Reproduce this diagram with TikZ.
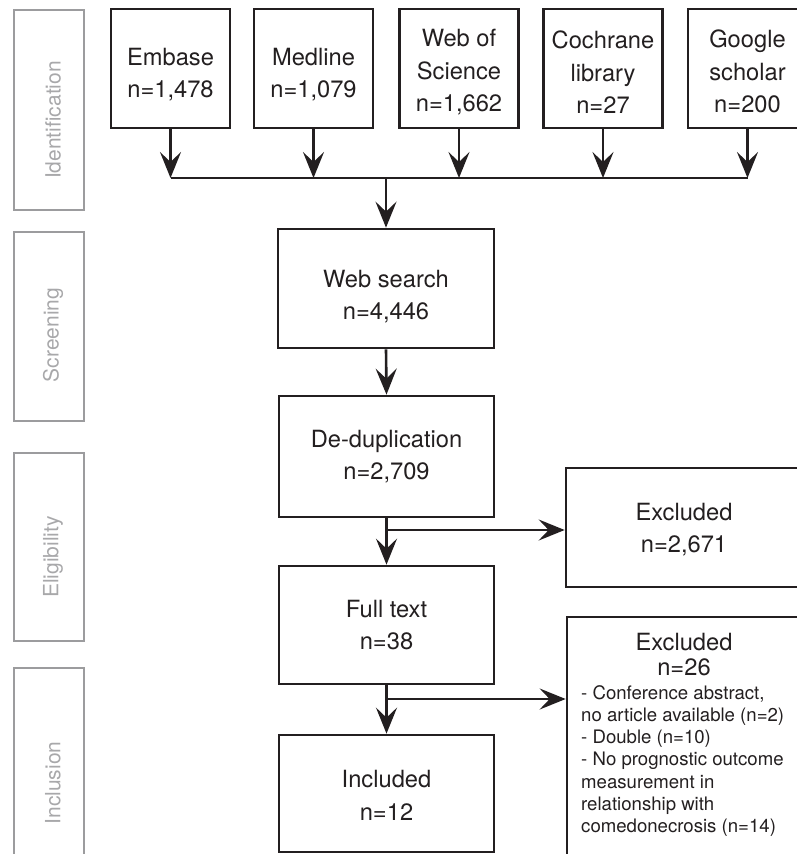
\documentclass[tikz,border=0pt]{standalone}
\usepackage{fontspec}
\setmainfont{TeX Gyre Heros}
\usetikzlibrary{arrows.meta}
\definecolor{ink}{HTML}{231F20}
\definecolor{stagegray}{HTML}{9C9C9E}
\definecolor{stagetext}{HTML}{A8A8AA}
\begin{document}
\begin{tikzpicture}[x=1pt,y=-1pt,
  boxtext/.style={align=center, text=ink, inner sep=0pt, font=\fontsize{23.7}{32.5}\selectfont},
  box/.style={draw=ink, line width=2.7pt, rectangle, inner sep=0pt, boxtext},
  stagebox/.style={draw=stagegray, line width=2.5pt, rectangle, inner sep=0pt, minimum width=70pt},
  stagelabel/.style={rotate=90, text=stagetext, font=\fontsize{21}{25}\selectfont, inner sep=0pt},
  arr/.style={draw=ink, line width=2.6pt, -{Stealth[length=26pt,width=21pt,inset=10pt]}},
  ln/.style={draw=ink, line width=2.6pt},
  src/.style={box, minimum width=119pt, minimum height=119pt}
]
\useasboundingbox (0,0) rectangle (797,854);
\clip (0,0) rectangle (797,854);

% stage boxes
\node[stagebox, minimum height=200pt] (sid) at (49,110) {};
\node[stagebox, minimum height=189pt] (ssc) at (49,326.5) {};
\node[stagebox, minimum height=188pt] (sel) at (49,547) {};
\node[stagebox, minimum height=212pt] (sin) at (49,774) {};
\node[stagelabel] (lid) at (53,120) {Identification};
\node[stagelabel] (lsc) at (53,335) {Screening};
\node[stagelabel] (lel) at (53,557) {Eligibility};
\node[stagelabel] (lin) at (53,783) {Inclusion};

% source boxes
\node[src, label={[boxtext, yshift=-6pt]center:Embase\\n=1,478}] (emb) at (170.5,68.5) {};
\node[src, label={[boxtext, yshift=-6pt]center:Medline\\n=1,079}] (med) at (313.5,68.5) {};
\node[src, label={[boxtext, yshift=-4pt]center:Web of\\Science\\n=1,662}] (wos) at (459,68.5) {};
\node[src, label={[boxtext, yshift=-4pt]center:Cochrane\\library\\n=27}] (coc) at (603,68.5) {};
\node[src, label={[boxtext, yshift=-3pt]center:Google\\scholar\\n=200}] (goo) at (747.5,68.5) {};

% main flow
\node[box, minimum width=216pt, minimum height=119pt, label={[boxtext, yshift=-8pt]center:Web search\\n=4,446}] (ws) at (386,288.5) {};
\node[box, minimum width=215pt, minimum height=121pt] (ded) at (386.5,456.5) {De-duplication\\n=2,709};
\node[box, minimum width=215pt, minimum height=118pt] (ft) at (386.5,625) {Full text\\n=38};
\node[box, minimum width=215pt, minimum height=117pt, label={[boxtext, yshift=-2pt]center:Included\\n=12}] (inc) at (386.5,793.5) {};

% excluded boxes
\node[box, minimum width=236pt, minimum height=119pt, label={[boxtext, yshift=-2pt]center:Excluded\\n=2,671}] (ex1) at (684,527.5) {};
\node[box, minimum width=235pt, minimum height=253pt] (ex2) at (684.5,743.5) {};
\node[text=ink, align=center, inner sep=0pt, font=\fontsize{23.7}{25}\selectfont] (ex2h) at (684,654.5) {Excluded\\n=26};
\node[text=ink, align=left, anchor=west, inner sep=0pt, font=\fontsize{18.6}{22.2}\selectfont] (ex2l) at (581,761) {- Conference abstract,\\no article available (n=2)\\- Double (n=10)\\- No prognostic outcome\\measurement in\\relationship with\\comedonecrosis (n=14)};

% connectors
\coordinate (hl) at (0,178);
\draw[arr] (emb.south) -- (emb.south |- hl);
\draw[arr] (med.south) -- (med.south |- hl);
\draw[arr] (wos.south) -- (wos.south |- hl);
\draw[arr] (coc.south) -- (coc.south |- hl);
\draw[arr] (goo.south) -- (goo.south |- hl);
\draw[ln] (emb.south |- hl) -- (goo.south |- hl);
\draw[arr] (ws.north |- hl) -- (ws.north);
\draw[arr] (ws.south) -- (ded.north);

\coordinate (b1) at (386.5,530);
\coordinate (b2) at (386.5,699);
\draw[arr] (ded.south) -- (ft.north);
\draw[arr] (b1) -- (b1 -| ex1.west);
\draw[arr] (ft.south) -- (inc.north);
\draw[arr] (b2) -- (b2 -| ex2.west);
\end{tikzpicture}
\end{document}
